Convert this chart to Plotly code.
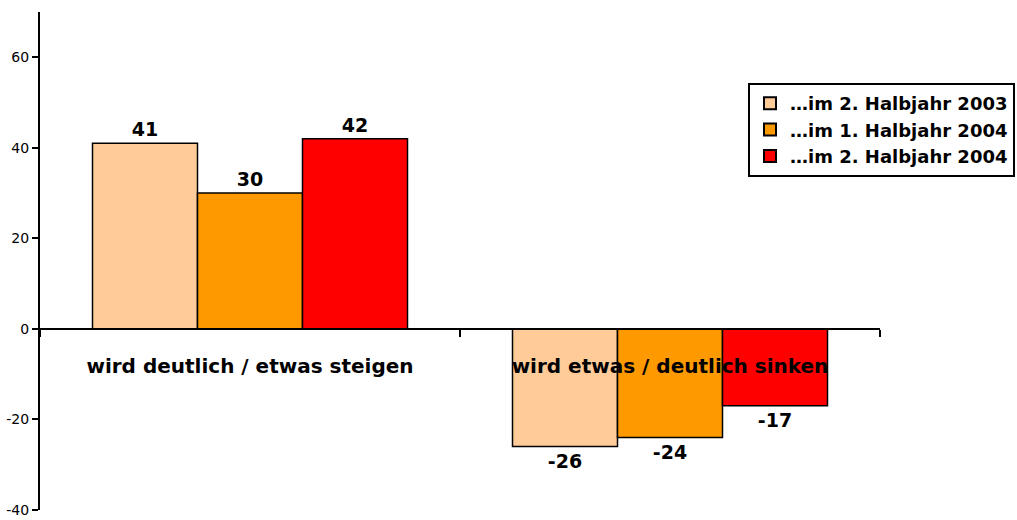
import plotly.graph_objects as go

categories = ["wird deutlich / etwas steigen", "wird etwas / deutlich sinken"]
series_names = ["…im 2. Halbjahr 2003", "…im 1. Halbjahr 2004", "…im 2. Halbjahr 2004"]
h2_2003 = [41, -26]
h1_2004 = [30, -24]
h2_2004 = [42, -17]
colors = ["#FFCC99", "#FF9900", "#FF0000"]
y_ticks = [-40, -20, 0, 20, 40, 60]
y_tick_labels = ["-40", "-20", "0", "20", "40", "60"]

FONT = "DejaVu Sans, Verdana, sans-serif"

fig = go.Figure()
for name, vals, col in zip(series_names, [h2_2003, h1_2004, h2_2004], colors):
    fig.add_trace(go.Bar(
        x=categories, y=vals, name=name,
        marker=dict(color=col, line=dict(color="black", width=1.5)),
        text=[str(v) for v in vals], textposition="outside",
        textfont=dict(family=FONT, size=19, color="black", weight="bold"),
        cliponaxis=False,
    ))

fig.update_layout(
    width=1017, height=520,
    margin=dict(l=40, r=137, t=12, b=10, autoexpand=False),
    paper_bgcolor="white", plot_bgcolor="white",
    barmode="group", bargap=0.25, bargroupgap=0,
    showlegend=True,
    legend=dict(
        x=(748 - 40) / 840, y=(510 - 83) / 498, xanchor="left", yanchor="top",
        bordercolor="black", borderwidth=2, bgcolor="white",
        font=dict(family=FONT, size=18, color="black", weight="bold"),
        itemsizing="constant", tracegroupgap=0, itemwidth=30,
    ),
    xaxis=dict(
        anchor="free", position=40 / 110,
        showline=True, linecolor="black", linewidth=2,
        ticks="outside", tickson="boundaries", ticklen=7, tickwidth=1.5, tickcolor="black",
        ticklabelstandoff=19,
        tickfont=dict(family=FONT, size=20, color="black", weight="bold"),
        showgrid=False, zeroline=False,
    ),
    yaxis=dict(
        range=[-40, 70], tickvals=y_ticks, ticktext=y_tick_labels,
        ticklabeloverflow="allow",
        showline=True, linecolor="black", linewidth=2,
        ticks="outside", ticklen=6, tickwidth=1.5, tickcolor="black",
        tickfont=dict(family=FONT, size=14, color="black"),
        showgrid=False, zeroline=False,
    ),
)

fig.write_html("out.html")
